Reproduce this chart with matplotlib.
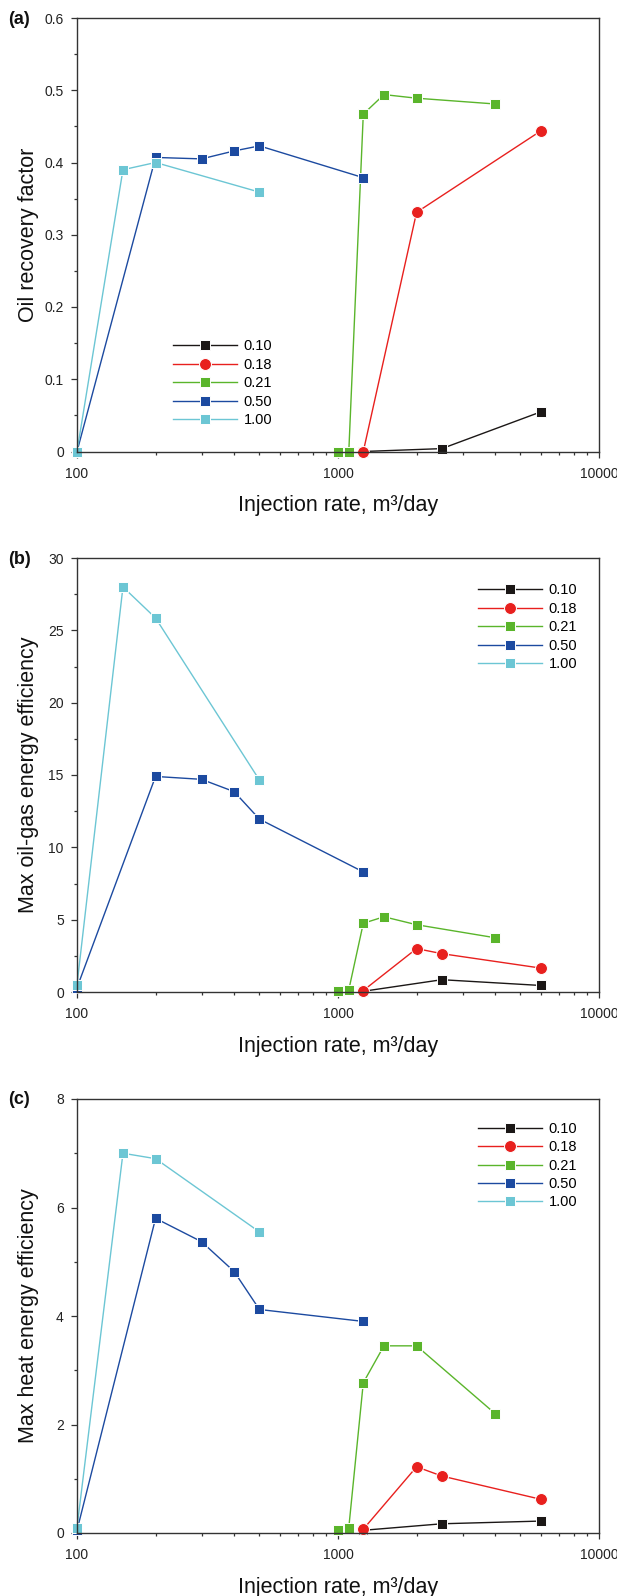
import matplotlib
matplotlib.use("Agg")
import matplotlib.pyplot as plt
from matplotlib.ticker import FixedLocator, NullFormatter, FuncFormatter

plt.rcParams['font.family'] = ['Liberation Sans', 'DejaVu Sans']

W, H = 617, 1596

series_labels = ["0.10", "0.18", "0.21", "0.50", "1.00"]
series_colors = ["#1b1716", "#e8201e", "#5ab52b", "#1c4aa0", "#6cc6d4"]
series_markers = ["s", "o", "s", "s", "s"]

# injection rates (m3/day) per series
x_010 = [1250, 2500, 6000]
x_018_a = [1250, 2000, 6000]
x_018 = [1250, 2000, 2500, 6000]
x_021 = [1000, 1100, 1250, 1500, 2000, 4000]
x_050 = [100, 200, 300, 400, 500, 1250]
x_100 = [100, 150, 200, 500]

# (a) oil recovery factor
a_010 = [0.0, 0.004, 0.055]
a_018 = [0.0, 0.331, 0.444]
a_021 = [0.0, 0.0, 0.467, 0.494, 0.489, 0.481]
a_050 = [0.0, 0.407, 0.405, 0.416, 0.423, 0.379]
a_100 = [0.0, 0.390, 0.400, 0.359]

# (b) max oil-gas energy efficiency
b_010 = [0.05, 0.85, 0.45]
b_018 = [0.1, 3.0, 2.65, 1.65]
b_021 = [0.1, 0.15, 4.75, 5.2, 4.65, 3.75]
b_050 = [0.3, 14.9, 14.7, 13.85, 11.95, 8.3]
b_100 = [0.5, 28.0, 25.85, 14.65]

# (c) max heat energy efficiency
c_010 = [0.05, 0.17, 0.22]
c_018 = [0.07, 1.22, 1.05, 0.62]
c_021 = [0.06, 0.1, 2.77, 3.45, 3.45, 2.2]
c_050 = [0.05, 5.8, 5.37, 4.82, 4.12, 3.9]
c_100 = [0.1, 7.0, 6.9, 5.55]

xlabel_text = "Injection rate, m³/day"

panels = [
    dict(tag="(a)", ylabel="Oil recovery factor", top=18, bottom=451.5,
         ylim=(0, 0.6), major=[0, 0.1, 0.2, 0.3, 0.4, 0.5, 0.6],
         minor=[0.05, 0.15, 0.25, 0.35, 0.45, 0.55],
         fmt=lambda v, p: "0" if v == 0 else f"{v:.1f}",
         data=[(x_010, a_010), (x_018_a, a_018), (x_021, a_021), (x_050, a_050), (x_100, a_100)],
         leg=(173, 339.5)),
    dict(tag="(b)", ylabel="Max oil-gas energy efficiency", top=558, bottom=992,
         ylim=(0, 30), major=[0, 5, 10, 15, 20, 25, 30],
         minor=[2.5, 7.5, 12.5, 17.5, 22.5, 27.5],
         fmt=lambda v, p: f"{v:.0f}",
         data=[(x_010, b_010), (x_018, b_018), (x_021, b_021), (x_050, b_050), (x_100, b_100)],
         leg=(478, 583.5)),
    dict(tag="(c)", ylabel="Max heat energy efficiency", top=1099, bottom=1533,
         ylim=(0, 8), major=[0, 2, 4, 6, 8], minor=[1, 3, 5, 7],
         fmt=lambda v, p: f"{v:.0f}",
         data=[(x_010, c_010), (x_018, c_018), (x_021, c_021), (x_050, c_050), (x_100, c_100)],
         leg=(478, 1122)),
]

fig = plt.figure(figsize=(W / 100, H / 100), dpi=100)
left, right = 77, 599
spine_col = "#333333"

for p in panels:
    ax = fig.add_axes([left / W, 1 - p["bottom"] / H, (right - left) / W, (p["bottom"] - p["top"]) / H])
    handles = []
    for (xs, ys), lab, col, mk in zip(p["data"], series_labels, series_colors, series_markers):
        ms = 8.6 if mk == "o" else 7.6
        h, = ax.plot(xs, ys, color=col, lw=1.0, marker=mk, ms=ms, mfc=col,
                     mec="white", mew=0.7, clip_on=False, label=lab)
        handles.append(h)
    ax.set_xscale("log")
    ax.set_xlim(100, 10000)
    ax.set_ylim(*p["ylim"])
    ax.xaxis.set_major_locator(FixedLocator([100, 1000, 10000]))
    ax.xaxis.set_major_formatter(FuncFormatter(lambda v, q: f"{v:.0f}"))
    ax.xaxis.set_minor_locator(FixedLocator([k * 10 ** e for e in (2, 3) for k in range(2, 10)]))
    ax.xaxis.set_minor_formatter(NullFormatter())
    ax.yaxis.set_major_locator(FixedLocator(p["major"]))
    ax.yaxis.set_minor_locator(FixedLocator(p["minor"]))
    ax.yaxis.set_major_formatter(FuncFormatter(p["fmt"]))
    ax.tick_params(which="both", direction="out", top=False, right=False,
                   color=spine_col, labelsize=10, labelcolor="#222222", width=0.9)
    ax.tick_params(which="major", length=4.5, pad=5)
    ax.tick_params(axis="x", which="major", pad=6.5)
    ax.tick_params(which="minor", length=2.5)
    for s in ax.spines.values():
        s.set_color(spine_col)
        s.set_linewidth(1.0)
    ymid = (p["top"] + p["bottom"]) / 2
    fig.text(29 / W, 1 - ymid / H, p["ylabel"], rotation=90, fontsize=15.5,
             color="#111111", ha="center", va="center")
    fig.text((left + right) / 2 / W, 1 - (p["bottom"] + 54.5) / H, xlabel_text,
             fontsize=15.5, color="#111111", ha="center", va="center")
    fig.text(8 / W, 1 - (p["top"] + 1) / H, p["tag"], fontsize=13, fontweight="bold",
             ha="left", va="center", color="#111111")
    lx, ly = p["leg"]
    ax.legend(handles=handles, loc="upper left", bbox_to_anchor=(lx / W, 1 - ly / H),
              bbox_transform=fig.transFigure, frameon=False, fontsize=10.5,
              handlelength=4.4, handletextpad=0.45, labelspacing=0.3, borderpad=0,
              borderaxespad=0, numpoints=1)

fig.savefig("out.png", dpi=100)
